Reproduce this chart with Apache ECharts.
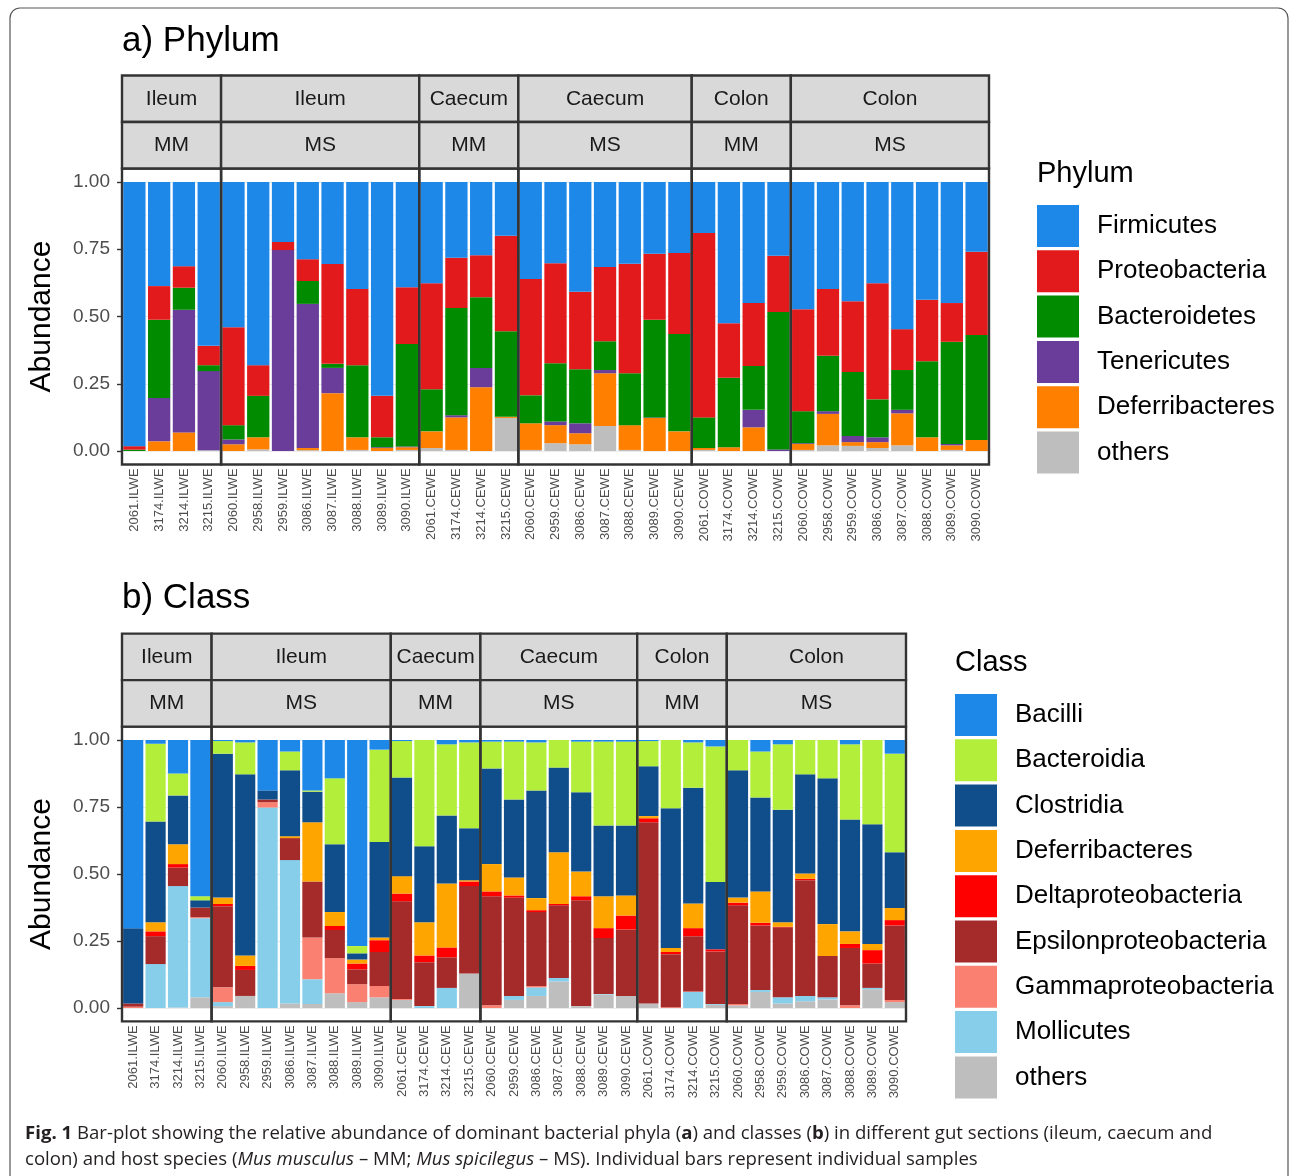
<!DOCTYPE html>
<html><head><meta charset="utf-8">
<script src="https://cdn.jsdelivr.net/npm/echarts@6/dist/echarts.min.js"></script>
<style>html,body{margin:0;padding:0;background:#fff}#c{width:1292px;height:1176px}</style>
</head><body><div id="c"></div>
<script>
// ---------------- DATA ----------------
const samplesA = ['2061.ILWE','3174.ILWE','3214.ILWE','3215.ILWE',
  '2060.ILWE','2958.ILWE','2959.ILWE','3086.ILWE','3087.ILWE','3088.ILWE','3089.ILWE','3090.ILWE',
  '2061.CEWE','3174.CEWE','3214.CEWE','3215.CEWE',
  '2060.CEWE','2959.CEWE','3086.CEWE','3087.CEWE','3088.CEWE','3089.CEWE','3090.CEWE',
  '2061.COWE','3174.COWE','3214.COWE','3215.COWE',
  '2060.COWE','2958.COWE','2959.COWE','3086.COWE','3087.COWE','3088.COWE','3089.COWE','3090.COWE'];
const samplesB = samplesA.slice();
const facetTissue = ['Ileum','Ileum','Caecum','Caecum','Colon','Colon'];
const facetHost = ['MM','MS','MM','MS','MM','MS'];
const facetSize = [4,8,4,7,4,8];
const yTicks = [0, 0.25, 0.5, 0.75, 1];

const phylumNames = ['Firmicutes','Proteobacteria','Bacteroidetes','Tenericutes','Deferribacteres','others'];
const phylumColors = ['#1E88E8','#E31A1C','#008B00','#6A3D9A','#FF7F00','#BEBEBE'];
const firmicutes     = [.982,.387,.313,.609, .540,.681,.223,.287,.305,.398,.795,.391, .376,.282,.272,.200, .361,.302,.408,.316,.304,.267,.264, .190,.525,.450,.274, .473,.398,.443,.376,.547,.438,.450,.259];
const proteobacteria = [.013,.125,.080,.072, .364,.114,.030,.081,.371,.283,.154,.211, .394,.186,.156,.355, .432,.372,.288,.276,.407,.245,.301, .685,.203,.234,.209, .379,.248,.263,.432,.152,.228,.144,.310];
const bacteroidetes  = [.005,.291,.082,.022, .053,.154,0,.085,.015,.268,.037,.381, .157,.399,.263,.318, .104,.216,.201,.107,.193,.363,.362, .114,.258,.163,.511, .119,.206,.238,.141,.148,.283,.380,.390];
const tenericutes    = [0,.161,.456,.294, .018,0,.747,.536,.094,0,.003,.003, 0,.008,.072,0, 0,.014,.037,.012,0,.002,0, 0,0,.065,.006, .003,.010,.023,.018,.013,0,.005,0];
const deferriPhylum  = [0,.036,.069,0, .025,.045,0,.008,.215,.047,.011,.010, .062,.121,.237,.004, .099,.067,.041,.196,.092,.123,.073, .007,.014,.088,0, .022,.117,.014,.022,.119,.051,.017,.041];
const othersPhylum   = [0,0,0,.003, 0,.006,0,.003,0,.004,0,.004, .011,.004,0,.123, .004,.029,.025,.093,.004,0,0, .004,0,0,0, .004,.021,.019,.011,.021,0,.004,0];
const phylumValues = [firmicutes, proteobacteria, bacteroidetes, tenericutes, deferriPhylum, othersPhylum];

const classNames = ['Bacilli','Bacteroidia','Clostridia','Deferribacteres','Deltaproteobacteria','Epsilonproteobacteria','Gammaproteobacteria','Mollicutes','others'];
const classColors = ['#1E88E8','#B3EE3A','#104E8B','#FFA500','#FF0000','#A52A2A','#FA8072','#87CEEB','#BEBEBE'];
const bacilli     = [.702,.014,.125,.583, .004,.009,.188,.043,.188,.143,.769,.036, .004,0,.016,.009, .006,.006,.009,0,.006,.006,.006, .004,0,.009,.024, 0,.043,.016,0,0,.016,0,.051];
const bacteroidia = [0,.290,.082,.015, .047,.119,0,.070,.005,.246,.027,.345, .136,.396,.266,.320, .100,.216,.179,.103,.189,.313,.313, .094,.255,.169,.506, .113,.172,.244,.128,.143,.281,.314,.368];
const clostridia  = [.281,.376,.182,.027, .537,.676,.034,.246,.114,.253,.023,.356, .368,.284,.253,.194, .357,.291,.402,.316,.296,.264,.261, .186,.521,.432,.251, .475,.350,.420,.370,.544,.417,.447,.208];
const deferriClass= [0,.034,.074,0, .024,.039,0,.007,.221,.052,.015,.010, .065,.124,.239,.005, .102,.067,.045,.193,.092,.119,.075, .008,.015,.092,0, .019,.117,.017,.020,.119,.047,.023,.045];
const deltaproteo = [0,.018,.013,0, .008,.015,0,0,0,.015,.022,.044, .029,.025,.037,.017, .018,.008,.007,.005,.015,.037,.052, .015,.008,.030,.008, .010,.010,.002,.005,0,.015,.050,.020];
const epsilonproteo=[.012,.104,.069,.036, .303,.097,.010,.082,.209,.105,.055,.127, .364,.164,.114,.326, .407,.367,.276,.271,.395,.209,.248, .676,.198,.206,.196, .368,.241,.261,.432,.154,.214,.091,.278];
const gammaproteo = [.005,0,0,.004, .055,0,.020,0,.156,.131,.067,.042, .004,0,0,0, .010,0,.005,0,0,0,0, 0,.003,.002,0, .005,0,0,0,0,.010,0,.008];
const mollicutes  = [0,.164,.453,.295, .015,0,.748,.535,.092,0,0,0, 0,.007,.075,0, 0,.015,.032,.013,0,.002,0, 0,0,.060,.003, 0,.007,.023,.020,.008,0,.005,0];
const othersClass = [0,0,.002,.040, .007,.045,0,.017,.015,.055,.022,.040, .030,0,0,.129, 0,.030,.045,.099,.007,.050,.045, .017,0,0,.012, .010,.060,.017,.025,.032,0,.070,.022];
const classValues = [bacilli, bacteroidia, clostridia, deferriClass, deltaproteo, epsilonproteo, gammaproteo, mollicutes, othersClass];

// ---------------- BUILD ----------------
const FONT = '"Liberation Sans", Arial, Helvetica, sans-serif';
const grids = [], xAxes = [], yAxes = [], series = [], graphics = [];

function buildPanel(c) {
  const total = c.samples.length;
  const bw = (c.right - c.left) / total;
  const pad = 0.05 * (c.yBottom - c.yTop);
  const fTop = c.yTop - pad, fBot = c.yBottom + pad;
  let s = 0;
  facetSize.forEach((n, f) => {
    const g = grids.length;
    const fx = c.left + s * bw, fw = n * bw;
    grids.push({left: fx, top: c.yTop, width: fw, height: c.yBottom - c.yTop, containLabel: false});
    xAxes.push({gridIndex: g, type: 'category', data: c.samples.slice(s, s + n), offset: pad,
      axisLine: {show: false},
      axisTick: {alignWithLabel: true, length: 5, lineStyle: {color: '#333', width: 1.4}},
      axisLabel: {rotate: 90, interval: 0, fontSize: 13, color: '#4d4d4d', fontFamily: FONT, margin: 4},
      splitLine: {show: false}});
    yAxes.push({gridIndex: g, type: 'value', min: yTicks[0], max: yTicks[yTicks.length - 1], interval: yTicks[1] - yTicks[0],
      axisLine: {show: false},
      axisTick: {show: f === 0, length: 5, lineStyle: {color: '#333', width: 1.4}},
      axisLabel: {show: f === 0, formatter: v => v.toFixed(2), fontSize: 19, color: '#4d4d4d', fontFamily: FONT, margin: 12},
      splitLine: {show: true, lineStyle: {color: '#ebebeb', width: 1.2}},
      minorTick: {show: false, splitNumber: 2},
      minorSplitLine: {show: true, lineStyle: {color: '#f2f2f2', width: 0.6}}});
    for (let k = c.values.length - 1; k >= 0; k--) {
      series.push({type: 'bar', name: c.names[k], xAxisIndex: g, yAxisIndex: g, stack: 'st' + g,
        data: c.values[k].slice(s, s + n), barCategoryGap: '10%',
        itemStyle: {color: c.colors[k]}, silent: true, animation: false});
    }
    graphics.push({type: 'rect', z: 100, shape: {x: fx, y: fTop, width: fw, height: fBot - fTop},
      style: {fill: 'none', stroke: '#333', lineWidth: 2.4}});
    const rows = [facetTissue[f], facetHost[f]];
    rows.forEach((lab, r) => {
      const sy = fTop - (2 - r) * c.stripH;
      graphics.push({type: 'rect', z: 100, shape: {x: fx, y: sy, width: fw, height: c.stripH},
        style: {fill: '#d9d9d9', stroke: '#333', lineWidth: 2.4}});
      graphics.push({type: 'text', z: 101, x: fx + fw / 2, y: sy + c.stripH / 2,
        style: {text: lab, fontSize: 21, fontFamily: FONT, fill: '#1a1a1a', align: 'center', verticalAlign: 'middle'}});
    });
    s += n;
  });
  graphics.push({type: 'text', z: 101, x: c.left, y: c.titleY,
    style: {text: c.title, fontSize: 35, fontFamily: FONT, fill: '#000', align: 'left', verticalAlign: 'middle'}});
  graphics.push({type: 'text', z: 101, x: 42, y: (fTop + fBot) / 2, rotation: Math.PI / 2,
    style: {text: 'Abundance', fontSize: 30, fontFamily: FONT, fill: '#000', align: 'center', verticalAlign: 'middle'}});
  graphics.push({type: 'text', z: 101, x: c.legendX, y: c.legendTitleY,
    style: {text: c.legendTitle, fontSize: 29, fontFamily: FONT, fill: '#000', align: 'left', verticalAlign: 'middle'}});
  c.names.forEach((nm, i) => {
    const ky = c.keyTop + i * c.keyStep;
    graphics.push({type: 'rect', z: 101, shape: {x: c.legendX, y: ky, width: 42, height: 42},
      style: {fill: c.colors[i], stroke: 'none'}});
    graphics.push({type: 'text', z: 101, x: c.legendX + 60, y: ky + 21,
      style: {text: nm, fontSize: 26, fontFamily: FONT, fill: '#000', align: 'left', verticalAlign: 'middle'}});
  });
}

buildPanel({samples: samplesA, names: phylumNames, colors: phylumColors, values: phylumValues,
  left: 122, right: 989, yTop: 182, yBottom: 451, stripH: 46.5, title: 'a) Phylum', titleY: 41,
  legendX: 1037, legendTitle: 'Phylum', legendTitleY: 174, keyTop: 205, keyStep: 45.3});
buildPanel({samples: samplesB, names: classNames, colors: classColors, values: classValues,
  left: 122, right: 906, yTop: 740, yBottom: 1008, stripH: 46.5, title: 'b) Class', titleY: 598,
  legendX: 955, legendTitle: 'Class', legendTitleY: 663, keyTop: 694, keyStep: 45.3});

graphics.push({type: 'rect', z: 1, shape: {x: 10, y: 8, width: 1278, height: 1220, r: 10},
  style: {fill: 'none', stroke: '#555', lineWidth: 1.2}});
const CF = '"Open Sans", "Noto Sans", sans-serif';
const CS = 18.6;
const capRich = {
  b: {fontWeight: 'bold', fontSize: CS, fontFamily: CF, fill: '#231f20'},
  i: {fontStyle: 'italic', fontSize: CS, fontFamily: CF, fill: '#231f20'}
};
graphics.push({type: 'text', z: 101, x: 25, y: 1134,
  style: {text: '{b|Fig. 1} Bar-plot showing the relative abundance of dominant bacterial phyla ({b|a}) and classes ({b|b}) in different gut sections (ileum, caecum and',
    rich: capRich, fontSize: CS, fontFamily: CF, fill: '#231f20', align: 'left', verticalAlign: 'middle'}});
graphics.push({type: 'text', z: 101, x: 25, y: 1160,
  style: {text: 'colon) and host species ({i|Mus musculus} – MM; {i|Mus spicilegus} – MS). Individual bars represent individual samples',
    rich: capRich, fontSize: CS, fontFamily: CF, fill: '#231f20', align: 'left', verticalAlign: 'middle'}});

const chart = echarts.init(document.getElementById('c'), null, {renderer: 'canvas', width: 1292, height: 1176});
chart.setOption({animation: false, backgroundColor: '#fff', grid: grids, xAxis: xAxes, yAxis: yAxes, series: series, graphic: {elements: graphics}});
</script></body></html>
